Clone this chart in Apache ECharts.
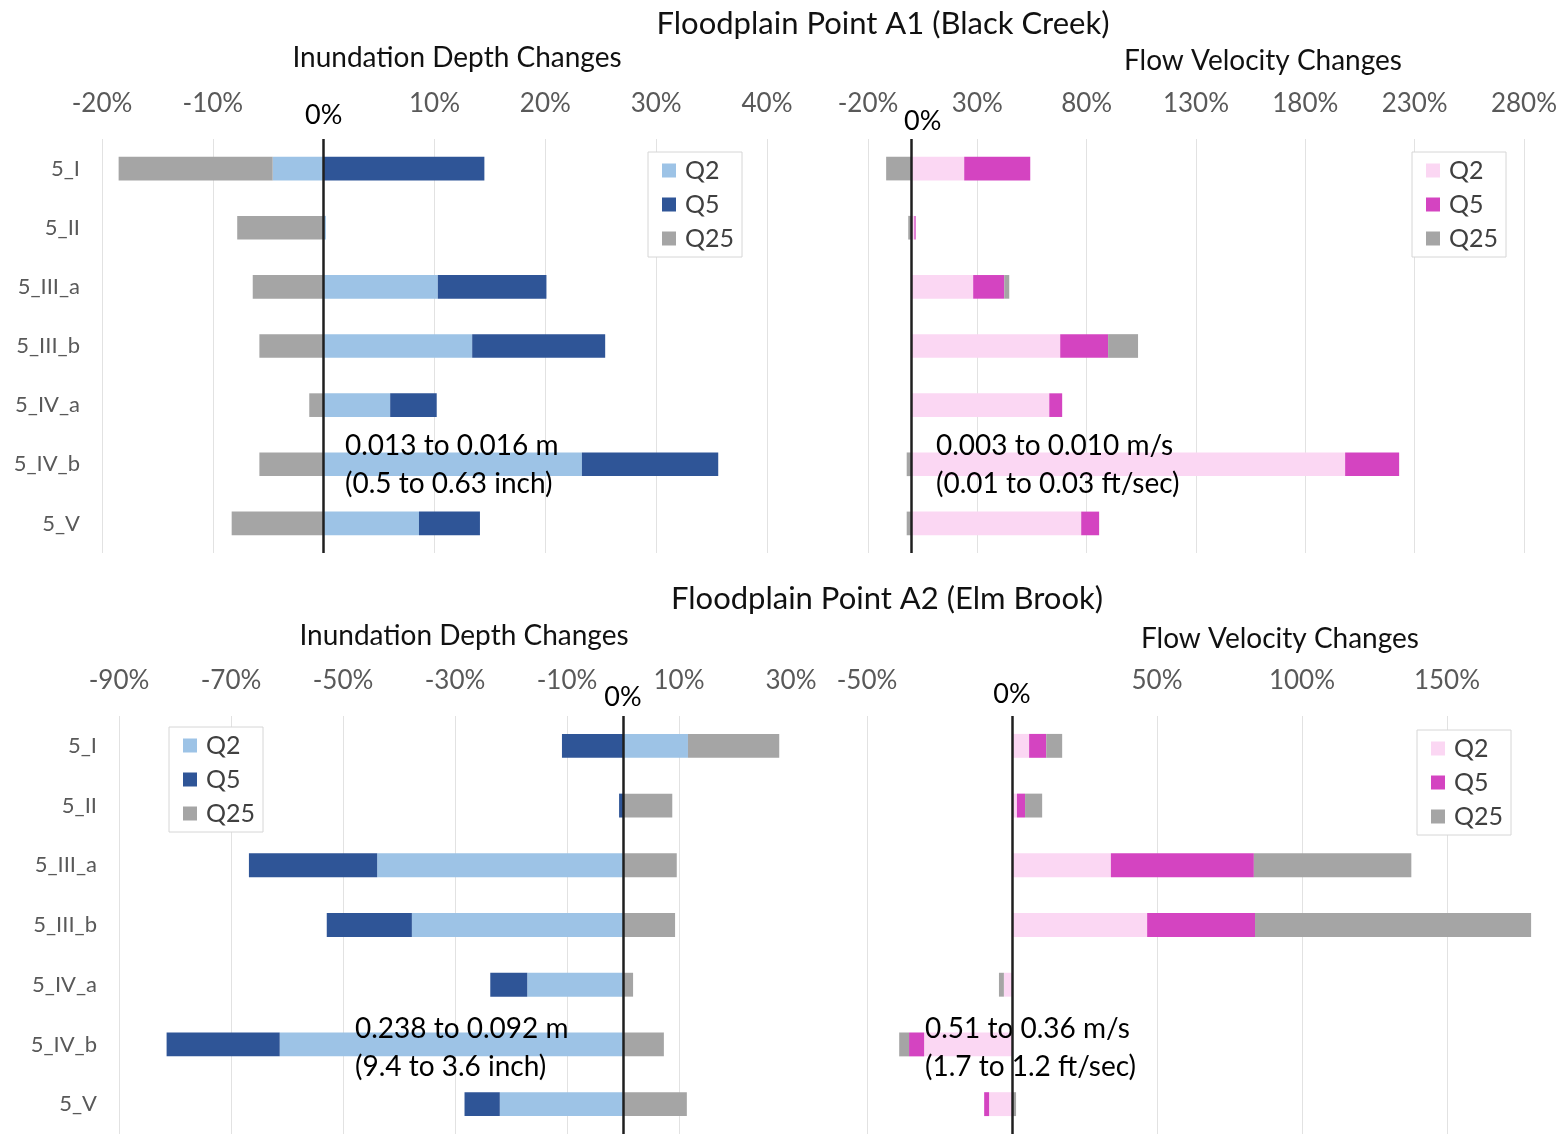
<!DOCTYPE html>
<html>
<head>
<meta charset="utf-8">
<title>Floodplain Points A1 / A2</title>
<script src="https://cdn.jsdelivr.net/npm/echarts@6/dist/echarts.min.js"></script>
<style>
  html, body { margin: 0; padding: 0; background: #fff; }
  #chart { width: 1564px; height: 1134px; }
</style>
</head>
<body>
<div id="chart"></div>
<script>
// categories (top to bottom)
const categories = ['5_I', '5_II', '5_III_a', '5_III_b', '5_IV_a', '5_IV_b', '5_V'];
const seriesNames = ['Q2', 'Q5', 'Q25'];

// A1 (Black Creek) - inundation depth changes, %
const depthA1Q2 = [-4.6, 0.2, 10.3, 13.4, 6.0, 23.3, 8.6];
const depthA1Q5 = [14.5, 0, 9.8, 12.0, 4.2, 12.3, 5.5];
const depthA1Q25 = [-13.9, -7.8, -6.4, -5.8, -1.3, -5.8, -8.3];

// A1 (Black Creek) - flow velocity changes, %
const velA1Q2 = [24.0, 1.2, 28.1, 67.9, 62.9, 198.2, 77.5];
const velA1Q5 = [30.2, 0.6, 14.2, 21.9, 5.9, 24.7, 8.2];
const velA1Q25 = [-11.7, -1.6, 2.3, 13.7, 0, -2.3, -2.3];

// A2 (Elm Brook) - inundation depth changes, %
const depthA2Q2 = [11.6, 0, -43.9, -37.7, -17.1, -61.3, -22.0];
const depthA2Q5 = [-10.9, -0.7, -22.9, -15.2, -6.6, -20.2, -6.3];
const depthA2Q25 = [16.3, 8.8, 9.6, 9.3, 1.8, 7.3, 11.4];

// A2 (Elm Brook) - flow velocity changes, %
const velA2Q2 = [5.9, 1.7, 34.1, 46.6, -2.8, -30.3, -7.9];
const velA2Q5 = [5.9, 2.8, 49.3, 37.2, 0, -5.2, -1.7];
const velA2Q25 = [5.5, 5.9, 54.3, 95.2, -1.7, -3.4, 1.4];

const blueColors = ['#9dc3e6', '#2f5597', '#a5a5a5'];
const pinkColors = ['#fbd7f3', '#d444c1', '#a5a5a5'];
const font = 'Lato, "Open Sans", sans-serif';

const myChart = echarts.init(document.getElementById('chart'));

const grids = [
  { left: 102, top: 139, width: 665, height: 414 },
  { left: 868, top: 139, width: 656, height: 414 },
  { left: 119, top: 716, width: 672, height: 419 },
  { left: 867, top: 716, width: 667, height: 419 }
];

function xAxis(gridIndex, min, max, interval) {
  return {
    type: 'value', gridIndex: gridIndex, position: 'top',
    min: min, max: max, interval: interval,
    axisLine: { show: false }, axisTick: { show: false },
    splitLine: { lineStyle: { color: '#e2e2e2', width: 1 }, showMaxLine: gridIndex < 2 },
    axisLabel: {
      color: '#595959', fontSize: 26, fontFamily: font, margin: 22,
      showMaxLabel: gridIndex !== 3,
      formatter: function (v) { return v === 0 ? '' : v + '%'; }
    }
  };
}

function yAxis(gridIndex, showLabels) {
  return {
    type: 'category', gridIndex: gridIndex, inverse: true, data: categories,
    axisLine: { show: false }, axisTick: { show: false }, splitLine: { show: false },
    axisLabel: { show: showLabels, color: '#595959', fontSize: 22, fontFamily: font, margin: 22 }
  };
}

function panelSeries(gridIndex, values, colors, zeroLabelOffset) {
  return values.map(function (data, i) {
    const s = {
      name: seriesNames[i], type: 'bar', stack: 'panel' + gridIndex,
      xAxisIndex: gridIndex, yAxisIndex: gridIndex,
      barWidth: '40%', data: data,
      itemStyle: { color: colors[i] }
    };
    if (i === 2) {
      // black 0% line on top of the bars
      s.z = 4;
      s.markLine = {
        silent: true, symbol: 'none', animation: false,
        lineStyle: { color: '#1f1f1f', width: 2.5, type: 'solid' },
        label: {
          show: true, position: 'start', formatter: '0%',
          color: '#000', fontSize: 27, fontFamily: font,
          distance: zeroLabelOffset[1], offset: [zeroLabelOffset[0], 0]
        },
        data: [{ xAxis: 0 }]
      };
    }
    return s;
  });
}

function legend(left, top, colors) {
  return {
    orient: 'vertical', left: left, top: top,
    backgroundColor: '#fff', borderColor: '#d6d6d6', borderWidth: 1,
    padding: [6, 8, 6, 14], itemWidth: 14, itemHeight: 14, itemGap: 9,
    textStyle: { color: '#404040', fontSize: 25, fontFamily: font, lineHeight: 24, padding: [0, 0, 0, 4] },
    selectedMode: false,
    data: seriesNames.map(function (n, i) {
      return { name: n, icon: 'rect', itemStyle: { color: colors[i] } };
    })
  };
}

function title(text, cx, top, size) {
  return {
    text: text, left: cx, top: top, textAlign: 'center',
    textStyle: { color: '#111', fontSize: size, fontWeight: 'normal', fontFamily: font }
  };
}

function note(text, left, top) {
  return {
    type: 'text', left: left, top: top, z: 3,
    style: { text: text, fill: '#000', font: '28px ' + font }
  };
}

const option = {
  animation: false,
  backgroundColor: '#fff',
  title: [
    title('Floodplain Point A1 (Black Creek)', 878, 3, 31),
    title('Inundation Depth Changes', 452, 39, 28),
    title('Flow Velocity Changes', 1258, 42, 28),
    title('Floodplain Point A2 (Elm Brook)', 882, 578, 31),
    title('Inundation Depth Changes', 459, 617, 28),
    title('Flow Velocity Changes', 1275, 620, 28)
  ],
  grid: grids,
  xAxis: [
    xAxis(0, -20, 40, 10),
    xAxis(1, -20, 280, 50),
    xAxis(2, -90, 30, 20),
    xAxis(3, -50, 180, 50)
  ],
  yAxis: [yAxis(0, true), yAxis(1, false), yAxis(2, true), yAxis(3, false)],
  legend: [
    legend(648, 152, blueColors),
    legend(1412, 152, pinkColors),
    legend(169, 727, blueColors),
    legend(1417, 730, pinkColors)
  ],
  series: [].concat(
    panelSeries(0, [depthA1Q2, depthA1Q5, depthA1Q25], blueColors, [0, 10]),
    panelSeries(1, [velA1Q2, velA1Q5, velA1Q25], pinkColors, [11, 4]),
    panelSeries(2, [depthA2Q2, depthA2Q5, depthA2Q25], blueColors, [0, 5]),
    panelSeries(3, [velA2Q2, velA2Q5, velA2Q25], pinkColors, [0, 8])
  ),
  graphic: [
    note('0.013 to 0.016 m', 345, 432),
    note('(0.5 to 0.63 inch)', 345, 470),
    note('0.003 to 0.010 m/s', 936, 432),
    note('(0.01 to 0.03 ft/sec)', 936, 470),
    note('0.238 to 0.092 m', 355, 1015),
    note('(9.4 to 3.6 inch)', 355, 1053),
    note('0.51 to 0.36 m/s', 925, 1015),
    note('(1.7 to 1.2 ft/sec)', 925, 1053)
  ]
};

myChart.setOption(option);
</script>
</body>
</html>
